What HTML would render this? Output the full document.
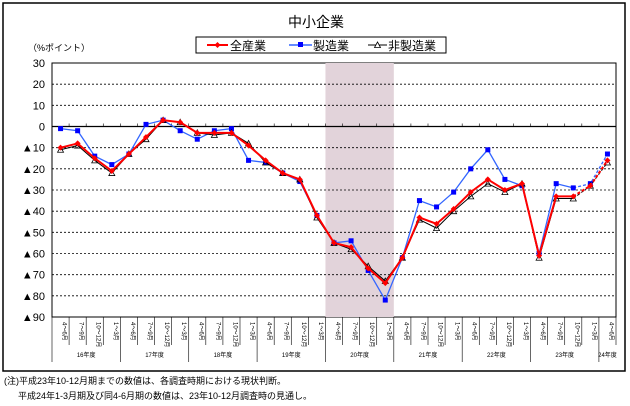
<!DOCTYPE html>
<html><head><meta charset="utf-8"><style>
body{margin:0;background:#fff;}
svg text{font-family:"Liberation Sans","Noto Sans CJK JP",sans-serif;}
</style></head><body>
<svg id="chart" width="630" height="401" xmlns="http://www.w3.org/2000/svg">
<rect x="3" y="3" width="622" height="368" fill="#fff" stroke="#000" stroke-width="1.5"/>
<text x="316" y="27" font-size="14" text-anchor="middle">中小企業</text>
<g>
<rect x="196" y="37" width="250" height="16" fill="#fff" stroke="#000"/>
<g><line x1="207" y1="45" x2="228" y2="45" stroke="#f00" stroke-width="2"/><polygon points="217.5,42 220.5,45 217.5,48 214.5,45" fill="#f00"/><text x="230" y="50" font-size="12">全産業</text></g>
<g><line x1="289" y1="45" x2="312" y2="45" stroke="#36f" stroke-width="1.5"/><rect x="298" y="42" width="5" height="5" fill="#00f"/><text x="313" y="50" font-size="12">製造業</text></g>
<g><line x1="368" y1="45" x2="387" y2="45" stroke="#000"/><polygon points="377.5,42 380.5,47.5 374.5,47.5" fill="#fff" stroke="#000" stroke-width="0.8"/><text x="388" y="50" font-size="12">非製造業</text></g>
</g>
<text x="28" y="51" font-size="9">（%ポイント）</text>
<text x="576" y="118" font-size="10">見通し</text>
<line x1="580" y1="136" x2="608" y2="136" stroke="#000" stroke-width="1.2"/>
<polygon points="612,136 604,132 604,140" fill="#000"/>
</svg>
<div style="position:absolute;left:4px;top:374px;font:9px 'Liberation Sans','Noto Sans CJK JP',sans-serif;">(注)平成23年10-12月期までの数値は、各調査時期における現状判断。</div>
<div style="position:absolute;left:18px;top:389px;font:9px 'Liberation Sans','Noto Sans CJK JP',sans-serif;">平成24年1-3月期及び同4-6月期の数値は、23年10-12月調査時の見通し。</div>
<script>
const quarters=["4～6月","7～9月","10～12月","1～3月"];
const years=["16年度","17年度","18年度","19年度","20年度","21年度","22年度","23年度","24年度"];
const yTicks=[30,20,10,0,-10,-20,-30,-40,-50,-60,-70,-80,-90];
const allInd=[-10,-8,-15,-21,-13,-5,3,2,-3,-3,-3,-9,-16,-22,-25,-42,-55,-57,-67,-74,-62,-43,-46,-39,-31,-25,-30,-27,-61,-33,-33,-28,-16];
const mfg=[-1,-2,-14,-18,-13,1,3,-2,-6,-2,-1,-16,-17,-22,-26,-42,-55,-54,-68,-82,-62,-35,-38,-31,-20,-11,-25,-28,-60,-27,-29,-27,-13];
const nonMfg=[-11,-9,-16,-22,-13,-6,3,2,-3,-4,-3,-8,-17,-22,-25,-43,-55,-58,-66,-73,-62,-44,-48,-40,-33,-27,-31,-27,-62,-34,-34,-28,-17];
const shadeStart=16, shadeEnd=20, forecastFrom=30;
const N=allInd.length;
const L=52,R=616,T=63,B=317;
const sw=(R-L)/N;
const xS=i=>L+sw*(i+0.5);
const yS=v=>T+(30-v)/120*(B-T);
const svg=document.getElementById('chart');
const NS='http://www.w3.org/2000/svg';
function mk(tag,attrs,parent){const e=document.createElementNS(NS,tag);for(const k in attrs)e.setAttribute(k,attrs[k]);(parent||svg).appendChild(e);return e;}
const plot=mk('rect',{x:L,y:T,width:R-L,height:B-T,fill:'#fff',stroke:'#000'});


const sh=mk('rect',{x:L+sw*shadeStart,y:T,width:sw*(shadeEnd-shadeStart),height:B-T,fill:'#e2d3da'});


yTicks.forEach(v=>{
  const y=yS(v);
  if(v!==30&&v!==-90){
    const g=mk('line',{x1:L,x2:R,y1:y,y2:y,stroke:'#000','stroke-width':v===0?1.2:0.8,'stroke-dasharray':v===0?'':'2,2'});
    
    
  }
  const t=mk('text',{x:45,y:y+4,'font-size':11,'text-anchor':'end'});
  t.textContent=v<0?'▲'+(-v):String(v);
  
  
});
for(let i=0;i<=N;i++){
  const x=L+sw*i;
  mk('line',{x1:x,x2:x,y1:yS(0),y2:yS(0)-3,stroke:'#000','stroke-width':0.6});
  const isYear=i%4===0;
  mk('line',{x1:x,x2:x,y1:B,y2:isYear?362:345,stroke:'#000','stroke-width':0.6});
}
for(let i=0;i<N;i++){
  const t=mk('text',{x:0,y:0,'font-size':6,transform:'translate('+(xS(i)+2)+',322) rotate(90)'});
  t.textContent=quarters[i%4];
  
  
}
years.forEach((yr,j)=>{
  const x0=L+sw*4*j, x1=Math.min(R,x0+sw*4);
  const t=mk('text',{x:(x0+x1)/2,y:357,'font-size':6,'text-anchor':'middle'});
  t.textContent=yr;
  
  
});
function series(data,color,w,marker,name){
  const g=mk('g',{});
  
  
  const solid=data.slice(0,forecastFrom+1).map((v,i)=>xS(i)+','+yS(v)).join(' ');
  const dash=data.slice(forecastFrom).map((v,i)=>xS(i+forecastFrom)+','+yS(v)).join(' ');
  mk('polyline',{points:solid,fill:'none',stroke:color,'stroke-width':w},g);
  mk('polyline',{points:dash,fill:'none',stroke:color,'stroke-width':w,'stroke-dasharray':'3,2'},g);
  data.forEach((v,i)=>{
    const x=xS(i),y=yS(v);let m;
    if(marker==='sq')m=mk('rect',{x:x-2.5,y:y-2.5,width:5,height:5,fill:'#00f'},g);
    else if(marker==='dia')m=mk('polygon',{points:(x)+','+(y-3)+' '+(x+3)+','+y+' '+x+','+(y+3)+' '+(x-3)+','+y,fill:'#f00'},g);
    else m=mk('polygon',{points:x+','+(y-3)+' '+(x+3)+','+(y+2.5)+' '+(x-3)+','+(y+2.5),fill:'none',stroke:'#000','stroke-width':0.8},g);
    
    
  });
}
series(mfg,'#3366ff',1.3,'sq','series-manufacturing');
series(nonMfg,'#000',1,'tri','series-non-manufacturing');
series(allInd,'#ff0000',2,'dia','series-all-industries');
</script>
</body></html>
